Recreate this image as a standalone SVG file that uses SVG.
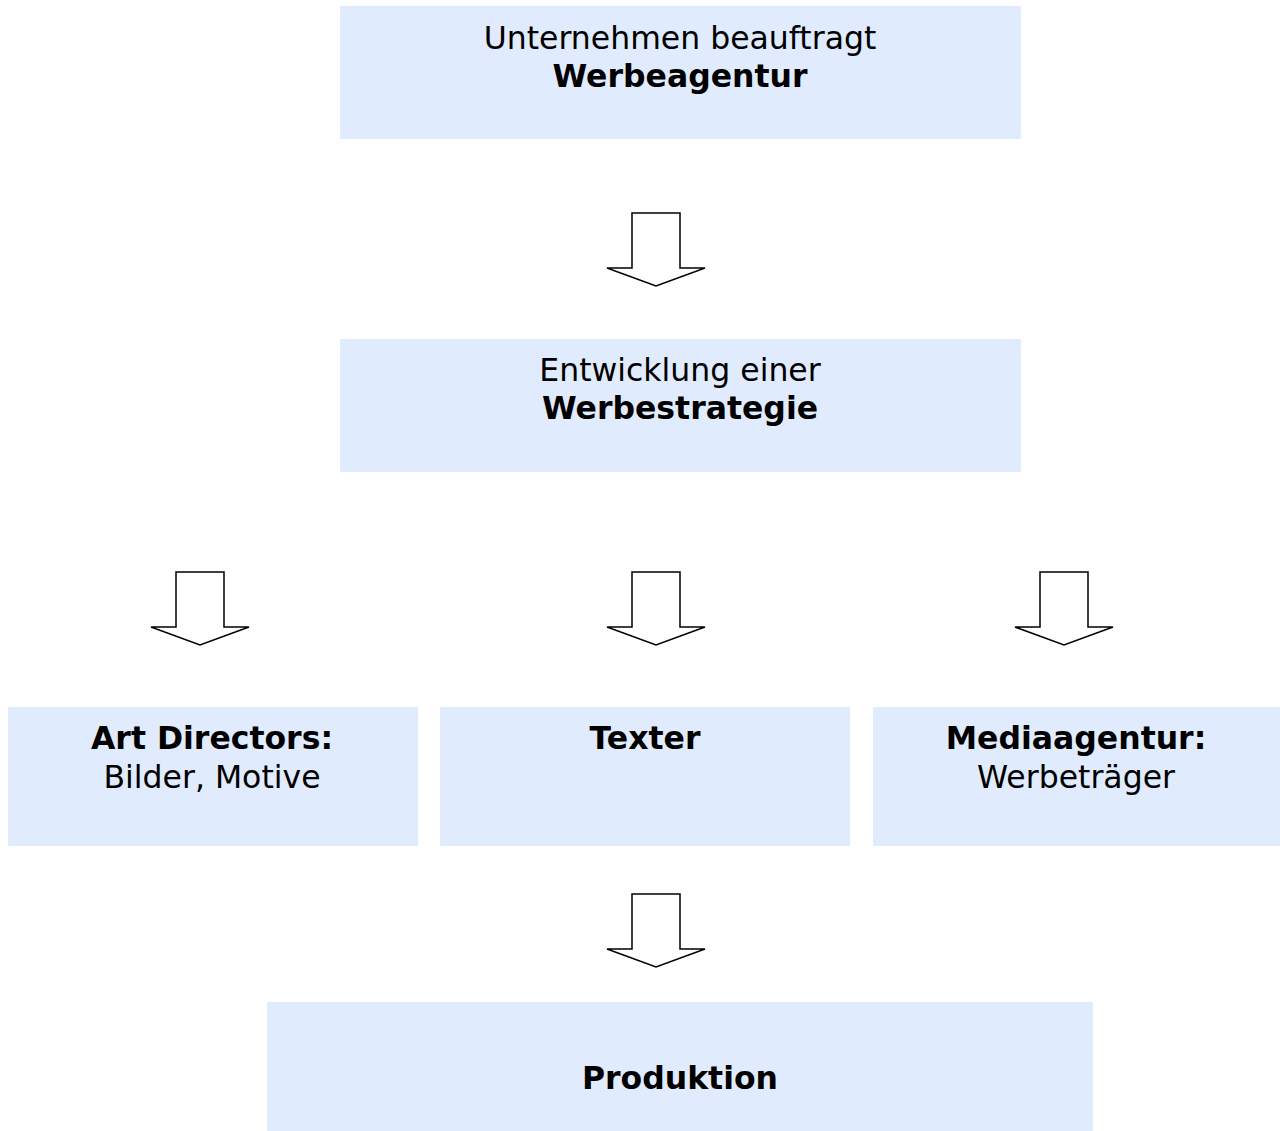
<svg xmlns="http://www.w3.org/2000/svg" width="1280" height="1131" viewBox="0 0 1280 1131">
<style>
.box{fill:#e0ecfd;stroke:none}
.t{font-family:"DejaVu Sans","Verdana",sans-serif;font-size:31.5px;fill:#000;text-anchor:middle}
.b{font-weight:bold}
.arr{fill:#fff;stroke:#000;stroke-width:1.5;stroke-linejoin:miter}
</style>
<defs>
<path id="ba" d="M-24,0 H24 V55 H49 L0,73 L-49,55 H-24 Z"/>
</defs>
<rect width="1280" height="1131" fill="#fff"/>
<g id="n1"><rect class="box" x="340" y="6" width="681" height="133"/>
<text class="t" x="680" y="49">Unternehmen beauftragt</text>
<text class="t b" x="680" y="87">Werbeagentur</text></g>
<g id="n2"><rect class="box" x="340" y="339" width="681" height="133"/>
<text class="t" x="680" y="381">Entwicklung einer</text>
<text class="t b" x="680" y="419">Werbestrategie</text></g>
<g id="n3"><rect class="box" x="8" y="707" width="410" height="139"/>
<text class="t b" x="212" y="749">Art Directors:</text>
<text class="t" x="212" y="788">Bilder, Motive</text></g>
<g id="n4"><rect class="box" x="440" y="707" width="410" height="139"/>
<text class="t b" x="645" y="749">Texter</text></g>
<g id="n5"><rect class="box" x="873" y="707" width="407" height="139"/>
<text class="t b" x="1076" y="749">Mediaagentur:</text>
<text class="t" x="1076" y="788">Werbeträger</text></g>
<g id="n6"><rect class="box" x="267" y="1002" width="826" height="129"/>
<text class="t b" x="680" y="1089">Produktion</text></g>
<g id="connectors">
<use href="#ba" class="arr" x="656" y="213"/>
<use href="#ba" class="arr" x="200" y="572"/>
<use href="#ba" class="arr" x="656" y="572"/>
<use href="#ba" class="arr" x="1064" y="572"/>
<use href="#ba" class="arr" x="656" y="894"/>
</g>
</svg>
